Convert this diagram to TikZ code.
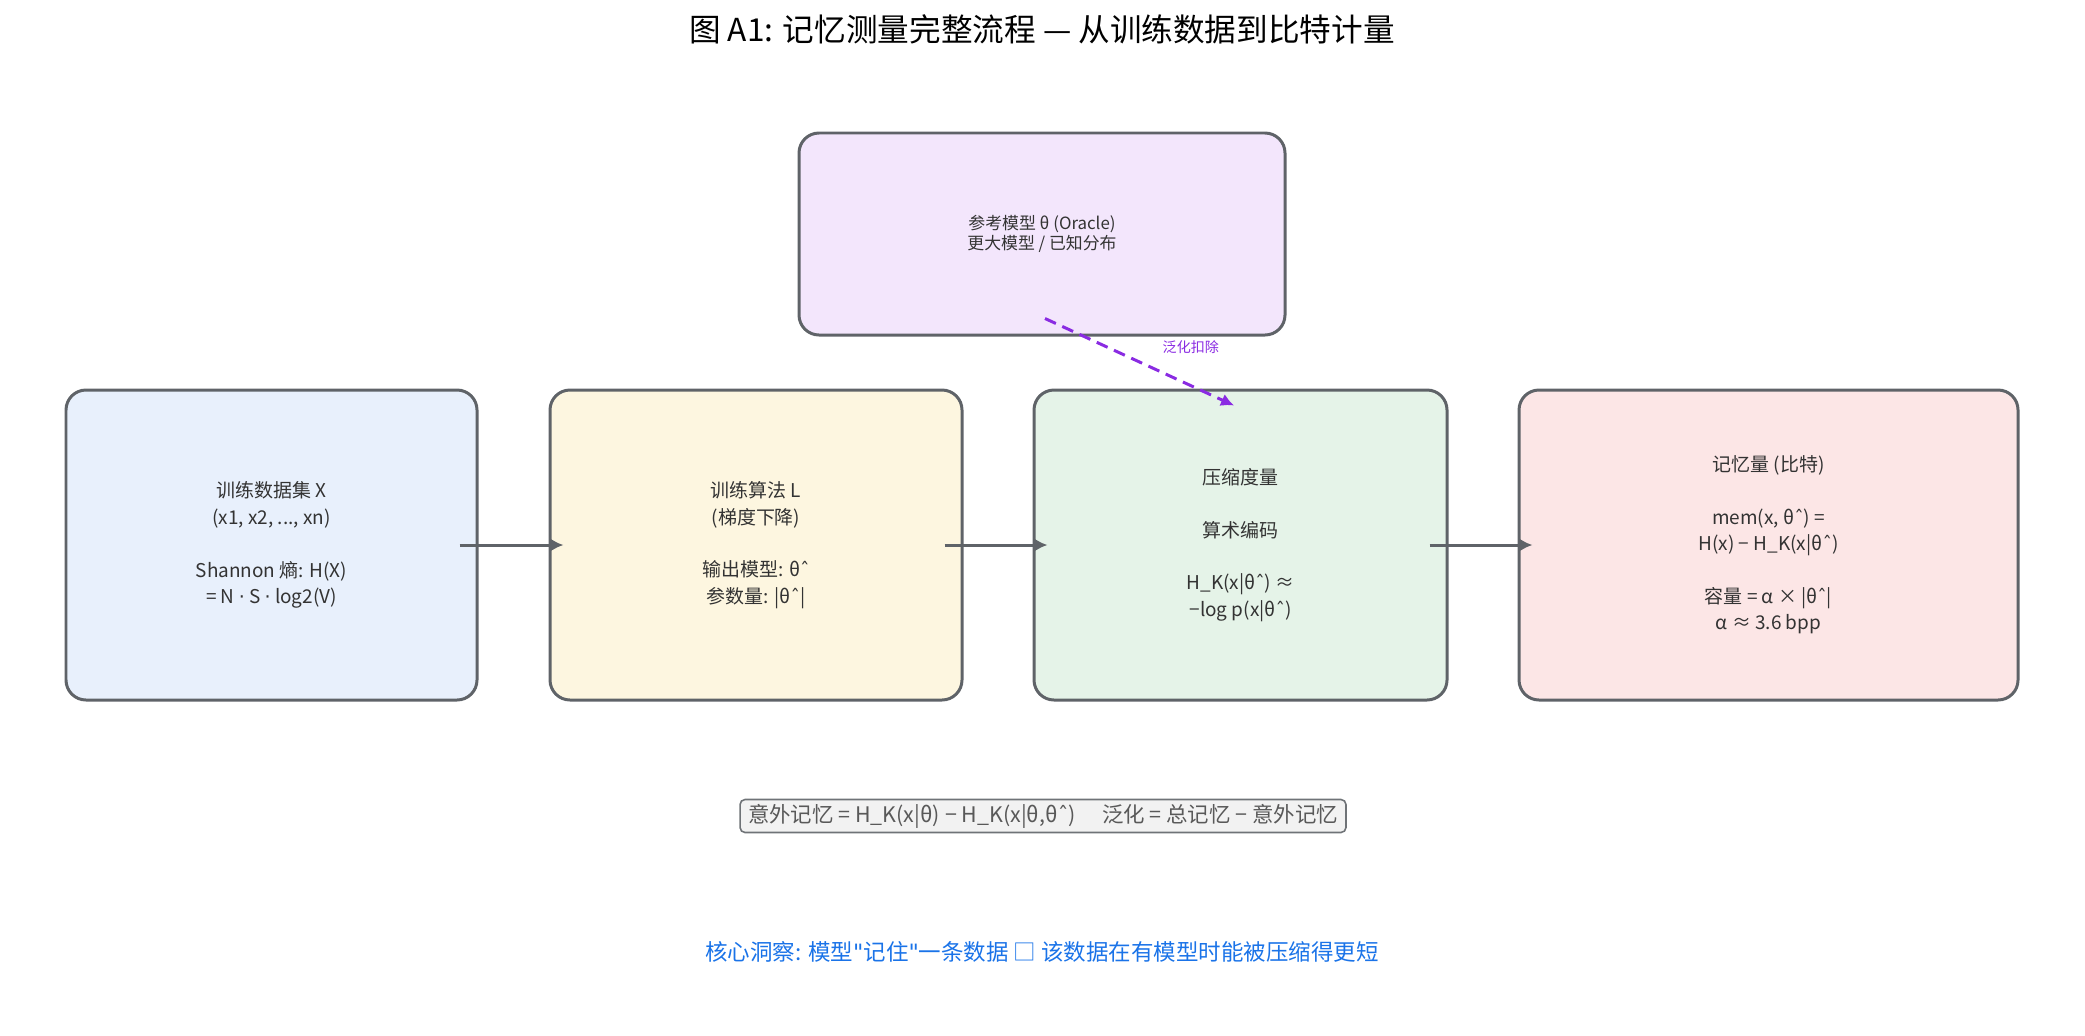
\documentclass[tikz,border=0pt]{standalone}
\usepackage{fontspec}
\setmainfont{Noto Sans CJK SC}
\newfontfamily\symfont{DejaVu Sans}
\newcommand{\hatmark}{{\symfont ˆ}}
\newcommand{\dotmark}{{\symfont ·}}
\newcommand{\quotemark}{{\symfont "}}
\usetikzlibrary{arrows.meta}
\definecolor{edgegray}{HTML}{5F6368}
\definecolor{txt}{HTML}{333333}
\definecolor{blueFill}{HTML}{E8F0FC}
\definecolor{yellowFill}{HTML}{FDF6E0}
\definecolor{greenFill}{HTML}{E5F3E8}
\definecolor{pinkFill}{HTML}{FCE6E6}
\definecolor{violetFill}{HTML}{F3E6FC}
\definecolor{genviolet}{HTML}{8A2BE2}
\definecolor{insightblue}{HTML}{1A73E8}
\tikzstyle{stage}=[draw=edgegray,line width=0.85pt,rounded corners=0.2cm,minimum height=3.1cm,align=center,text=txt,font=\fontsize{5.4}{7.5}\selectfont]
\tikzstyle{refbox}=[draw=edgegray,line width=0.85pt,rounded corners=0.2cm,fill=violetFill,minimum width=4.86cm,minimum height=2.02cm,align=center,text=txt,font=\fontsize{4.8}{5.7}\selectfont]
\tikzstyle{flow}=[-{Latex[length=1.3mm,width=1.3mm]},draw=edgegray,line width=0.85pt]
\tikzstyle{gen}=[-{Latex[length=1.3mm,width=1.3mm]},draw=genviolet,line width=0.85pt,dash pattern=on 3.4pt off 2pt]
\tikzstyle{note}=[draw=edgegray!90,line width=0.45pt,rounded corners=0.05cm,fill=gray!10,text=black!65,inner xsep=0.08cm,inner ysep=0.02cm,minimum height=0.33cm,font=\fontsize{6.1}{6.5}\selectfont]

\begin{document}
\begin{tikzpicture}
  \useasboundingbox (0,0) rectangle (20.85,10.35);
  \node[font=\fontsize{9}{10}\selectfont] (title) at (10.42,10.06) {图 A1: 记忆测量完整流程 — 从训练数据到比特计量};

  \node[refbox] (oracle) at (10.42,8.01) {参考模型 θ (Oracle)\\更大模型 / 已知分布};
  \node[stage,fill=blueFill,minimum width=4.11cm] (data) at (2.715,4.9) {训练数据集 X\\(x1, x2, ..., xn)\\[7.5pt]Shannon 熵: H(X)\\= N \dotmark{} S \dotmark{} log2(V)};
  \node[stage,fill=yellowFill,minimum width=4.12cm] (algo) at (7.56,4.9) {训练算法 L\\(梯度下降)\\[7.5pt]输出模型: θ\hatmark\\参数量: |θ\hatmark|};
  \node[stage,fill=greenFill,minimum width=4.13cm] (comp) at (12.405,4.9) {压缩度量\\[7.5pt]算术编码\\[7.5pt]H\_K(x|θ\hatmark) ≈\\−log p(x|θ\hatmark)};
  \node[stage,fill=pinkFill,minimum width=4.99cm] (mem) at (17.685,4.9) {记忆量 (比特)\\[7.5pt]mem(x, θ\hatmark) =\\H(x) − H\_K(x|θ\hatmark)\\[7.5pt]容量 = α × |θ\hatmark|\\α ≈ 3.6 bpp};

  \draw[flow] ([xshift=-0.19cm]data.east) -- ([xshift=0.15cm]algo.west);
  \draw[flow] ([xshift=-0.19cm]algo.east) -- ([xshift=0.15cm]comp.west);
  \draw[flow] ([xshift=-0.19cm]comp.east) -- ([xshift=0.15cm]mem.west);
  \draw[gen] ([xshift=0.03cm,yshift=0.18cm]oracle.south) -- node[pos=0.5,above right,xshift=0.1cm,yshift=-0.05cm,text=genviolet,font=\fontsize{4}{5}\selectfont] {泛化扣除} ([xshift=-0.065cm,yshift=-0.17cm]comp.north);

  \node[note] (formula) at (10.43,2.19) {意外记忆 = H\_K(x|θ) − H\_K(x|θ,θ\hatmark)\quad\ 泛化 = 总记忆 − 意外记忆};
  \node[text=insightblue,font=\fontsize{6.4}{7}\selectfont] (insight) at (10.42,0.83) {核心洞察: 模型\quotemark 记住\quotemark 一条数据 □ 该数据在有模型时能被压缩得更短};
\end{tikzpicture}
\end{document}
